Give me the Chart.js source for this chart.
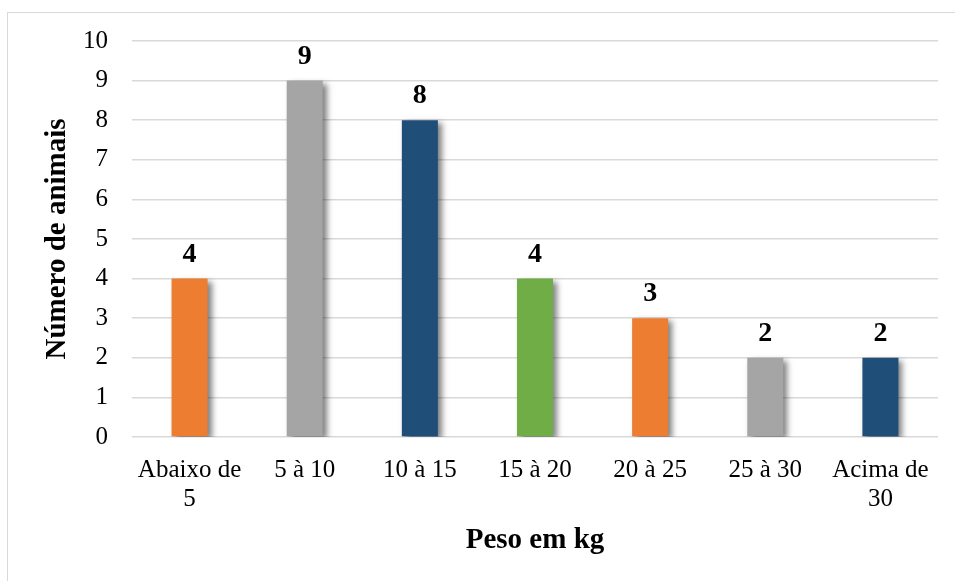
<!DOCTYPE html>
<html lang="pt">
<head>
<meta charset="utf-8">
<script src="https://cdn.jsdelivr.net/npm/chart.js@4/dist/chart.umd.min.js"></script>
<style>
  html, body { margin: 0; padding: 0; background: #ffffff; overflow: hidden; }
  #wrap { position: relative; width: 955px; height: 581px; }
  #frame { position: absolute; left: 7px; top: 12px; width: 1200px; height: 800px;
           border: 1px solid #d9d9d9; box-sizing: border-box; }
  canvas { position: absolute; left: 0; top: 0; }
</style>
</head>
<body>
<div id="wrap">
  <div id="frame"></div>
  <canvas id="chart" width="955" height="581"></canvas>
</div>
<script>
// Weight classes and number of animals in each
const categories = [["Abaixo de", "5"], "5 à 10", "10 à 15", "15 à 20", "20 à 25", "25 à 30", ["Acima de", "30"]];
const animalCounts = [4, 9, 8, 4, 3, 2, 2];
const barColors = ["#ED7D31", "#A5A5A5", "#1F4E79", "#70AD47", "#ED7D31", "#A5A5A5", "#1F4E79"];
const yTicks = [0, 1, 2, 3, 4, 5, 6, 7, 8, 9, 10];

const serif = "'Liberation Serif', 'Times New Roman', serif";

// Soft drop shadow behind the bars
const barShadow = {
  id: 'barShadow',
  beforeDatasetsDraw(chart) {
    const ctx = chart.ctx;
    ctx.save();
    ctx.shadowColor = 'rgba(0,0,0,0.5)';
    ctx.shadowBlur = 6;
    ctx.shadowOffsetX = 4;
    ctx.shadowOffsetY = 3;
  },
  afterDatasetsDraw(chart) {
    chart.ctx.restore();
  }
};

// Bold value above each bar
const valueLabels = {
  id: 'valueLabels',
  afterDatasetsDraw(chart) {
    const ctx = chart.ctx;
    const meta = chart.getDatasetMeta(0);
    ctx.save();
    ctx.font = "bold 28px " + serif;
    ctx.fillStyle = '#000000';
    ctx.textAlign = 'center';
    ctx.textBaseline = 'alphabetic';
    meta.data.forEach((bar, i) => {
      ctx.fillText(String(animalCounts[i]), bar.x, bar.y - 17);
    });
    ctx.restore();
  }
};

new Chart(document.getElementById('chart'), {
  type: 'bar',
  data: {
    labels: categories,
    datasets: [{
      data: animalCounts,
      backgroundColor: barColors,
      borderWidth: 0,
      categoryPercentage: 1,
      barPercentage: 0.313
    }]
  },
  options: {
    responsive: false,
    animation: false,
    devicePixelRatio: 1,
    layout: { padding: { left: 40, right: 17, top: 41, bottom: 23 } },
    plugins: { legend: { display: false }, tooltip: { enabled: false } },
    scales: {
      x: {
        grid: { display: false, drawTicks: false },
        border: { display: false },
        ticks: {
          color: '#000000',
          padding: 19,
          maxRotation: 0,
          autoSkip: false,
          font: { family: serif, size: 25, lineHeight: 1.15 }
        },
        title: {
          display: true,
          text: 'Peso em kg',
          color: '#000000',
          padding: 0,
          font: { family: serif, size: 29, weight: 'bold', lineHeight: 1.2 }
        },
        afterFit(scale) { scale.height = 121; }
      },
      y: {
        min: 0,
        max: 10,
        afterBuildTicks(scale) { scale.ticks = yTicks.map(v => ({ value: v })); },
        grid: { color: '#d9d9d9', lineWidth: 1.5, drawTicks: false },
        border: { display: false },
        ticks: {
          color: '#000000',
          padding: 24,
          font: { family: serif, size: 25 }
        },
        title: {
          display: true,
          text: 'Número de animais',
          color: '#000000',
          padding: 0,
          font: { family: serif, size: 29, weight: 'bold', lineHeight: 1.2 }
        },
        afterFit(scale) { scale.width = 92; }
      }
    }
  },
  plugins: [barShadow, valueLabels]
});
</script>
</body>
</html>
